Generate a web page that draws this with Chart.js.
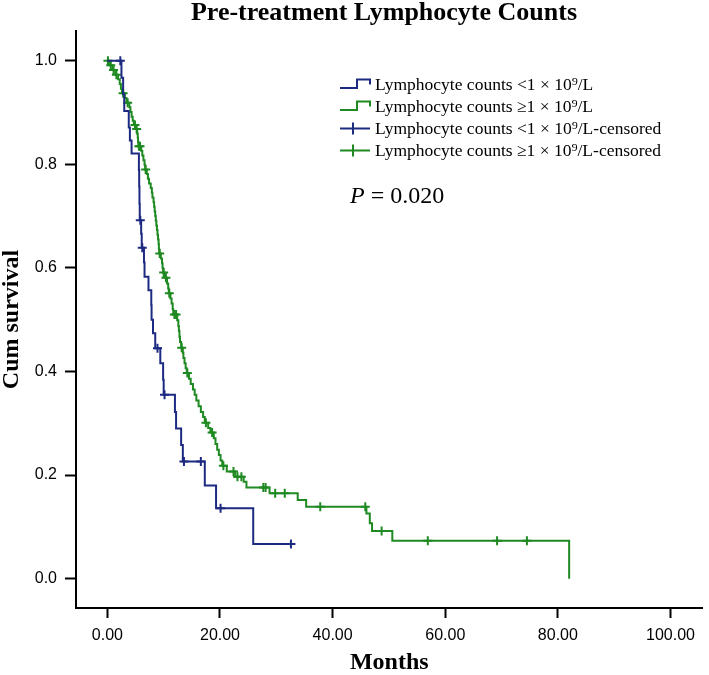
<!DOCTYPE html>
<html><head><meta charset="utf-8">
<script src="https://cdn.jsdelivr.net/npm/chart.js@4/dist/chart.umd.min.js"></script>
<style>html,body{margin:0;padding:0;background:#fff}canvas{display:block}</style>
</head><body>
<canvas id="c" width="709" height="675"></canvas>
<script>
const chartTitle = 'Pre-treatment Lymphocyte Counts';
const xTitle = 'Months';
const yTitle = 'Cum survival';
const xTicks = [0, 20, 40, 60, 80, 100];
const yTicks = [0, 0.2, 0.4, 0.6, 0.8, 1.0];
const seriesNames = [
  'Lymphocyte counts <1 \u00d7 10\u2079/L',
  'Lymphocyte counts \u22651 \u00d7 10\u2079/L',
  'Lymphocyte counts <1 \u00d7 10\u2079/L-censored',
  'Lymphocyte counts \u22651 \u00d7 10\u2079/L-censored'
];
const pLabel = ['P', ' = 0.020'];

// Group <1 x 10^9/L : event times (months) and survival after each step
const lowTimes = [0, 2.5, 2.8, 3.0, 3.8, 4.0, 4.3, 5.6, 5.65, 5.7, 5.75, 6.0, 6.1, 6.5, 6.6, 7.3, 7.8, 7.85, 8.1, 8.5, 9.4, 9.9, 10.0, 12.0, 12.2, 13.1, 13.4, 17.3, 19.3, 25.9, 32.6];
const lowSurv  = [1.0, 0.967, 0.935, 0.903, 0.871, 0.846, 0.821, 0.789, 0.757, 0.724, 0.692, 0.666, 0.639, 0.611, 0.583, 0.557, 0.528, 0.500, 0.474, 0.445, 0.416, 0.384, 0.355, 0.322, 0.290, 0.258, 0.226, 0.180, 0.136, 0.067, 0.067];
const lowCensTimes = [2.3, 5.85, 6.2, 8.9, 10.15, 13.6, 16.6, 20.1, 32.6];
const lowCensSurv  = [1.0, 0.692, 0.639, 0.445, 0.355, 0.226, 0.226, 0.136, 0.067];

// Group >=1 x 10^9/L
const highTimes = [0, 0.3, 0.9, 1.4, 1.9, 2.2, 2.4, 2.6, 3.1, 3.4, 3.9, 4.1, 4.3, 4.5, 4.7, 5.1, 5.3, 5.4, 5.45, 5.5, 6.0, 6.2, 6.4, 6.6, 6.7, 7.0, 7.2, 7.4, 7.7, 7.9, 8.0, 8.2, 8.3, 8.4, 8.5, 8.6, 8.7, 8.8, 8.9, 9.0, 9.1, 9.15, 9.2, 9.5, 9.7, 9.8, 9.9, 10.2, 10.6, 10.8, 10.9, 11.2, 11.4, 11.6, 11.7, 12.4, 12.6, 12.7, 12.8, 12.9, 13.1, 13.4, 13.5, 13.7, 13.9, 14.1, 14.5, 14.8, 15.2, 15.5, 15.8, 16.2, 16.6, 17.0, 17.3, 17.9, 18.3, 18.9, 19.2, 19.5, 19.8, 20.1, 20.4, 21.2, 22.7, 24.2, 24.7, 28.8, 33.8, 35.3, 46.0, 46.6, 47.0, 50.6, 82.0];
const highSurv  = [1.0, 0.991, 0.982, 0.973, 0.964, 0.955, 0.946, 0.937, 0.928, 0.919, 0.910, 0.901, 0.892, 0.884, 0.876, 0.868, 0.859, 0.851, 0.843, 0.835, 0.826, 0.817, 0.808, 0.799, 0.790, 0.781, 0.772, 0.763, 0.754, 0.745, 0.736, 0.727, 0.718, 0.709, 0.700, 0.691, 0.682, 0.673, 0.664, 0.655, 0.646, 0.637, 0.628, 0.618, 0.609, 0.600, 0.591, 0.581, 0.570, 0.560, 0.551, 0.541, 0.531, 0.520, 0.510, 0.499, 0.488, 0.478, 0.467, 0.457, 0.446, 0.436, 0.426, 0.416, 0.406, 0.397, 0.386, 0.376, 0.365, 0.355, 0.344, 0.333, 0.322, 0.312, 0.301, 0.291, 0.282, 0.271, 0.260, 0.249, 0.239, 0.228, 0.218, 0.207, 0.197, 0.187, 0.176, 0.165, 0.152, 0.139, 0.126, 0.107, 0.092, 0.073, 0];
const highCensTimes = [0.1, 0.6, 1.1, 1.6, 2.8, 3.6, 4.9, 5.2, 5.6, 5.8, 6.8, 9.3, 10.0, 10.4, 11.0, 11.9, 12.2, 13.2, 14.2, 17.5, 18.6, 20.6, 22.4, 23.1, 23.8, 27.7, 28.1, 29.8, 31.5, 37.8, 45.8, 48.7, 56.9, 69.2, 74.5];
const highCensSurv  = [1.0, 0.991, 0.982, 0.973, 0.937, 0.919, 0.876, 0.868, 0.835, 0.835, 0.790, 0.628, 0.591, 0.581, 0.551, 0.510, 0.510, 0.446, 0.397, 0.301, 0.282, 0.218, 0.207, 0.197, 0.197, 0.176, 0.176, 0.165, 0.165, 0.139, 0.139, 0.092, 0.073, 0.073, 0.073];

const BLUE = '#1d2a82';
const GREEN = '#1f8a22';
const pts = (xs, ys) => xs.map((x, i) => ({x: x, y: ys[i]}));

const overlay = {
  id: 'overlay',
  afterDraw(chart) {
    const ctx = chart.ctx;
    ctx.save();
    ctx.fillStyle = '#000';
    ctx.textBaseline = 'alphabetic';
    ctx.font = 'bold 26px "Liberation Serif", "Times New Roman", serif';
    ctx.textAlign = 'center';
    ctx.fillText(chartTitle, 384, 20);

    // legend
    ctx.textAlign = 'left';
    ctx.font = '17.5px "Liberation Serif", "Times New Roman", serif';
    const baselines = [90, 112, 134, 156];
    const colors = [BLUE, GREEN, BLUE, GREEN];
    baselines.forEach((b, i) => {
      ctx.strokeStyle = colors[i];
      ctx.lineWidth = 2;
      ctx.beginPath();
      if (i < 2) {
        const yb = b - 2, yt = b - 10.5;
        ctx.moveTo(340, yb); ctx.lineTo(357, yb); ctx.lineTo(357, yt);
        ctx.lineTo(370, yt); ctx.lineTo(370, yt + 5);
      } else {
        const yc = b - 5.5;
        ctx.moveTo(340, yc); ctx.lineTo(370, yc);
        ctx.moveTo(353, yc - 6); ctx.lineTo(353, yc + 6);
      }
      ctx.stroke();
      ctx.fillStyle = '#000';
      ctx.fillText(seriesNames[i], 375, b);
    });

    // P value
    ctx.font = 'italic 24px "Liberation Serif", "Times New Roman", serif';
    ctx.fillText(pLabel[0], 350, 203);
    const w = ctx.measureText(pLabel[0]).width;
    ctx.font = '24px "Liberation Serif", "Times New Roman", serif';
    ctx.fillText(pLabel[1], 350 + w, 203);
    ctx.restore();
  }
};

new Chart(document.getElementById('c'), {
  type: 'line',
  data: {
    datasets: [
      { label: seriesNames[0], data: pts(lowTimes, lowSurv), stepped: 'before', borderColor: BLUE, borderWidth: 2, pointRadius: 0, fill: false },
      { label: seriesNames[1], data: pts(highTimes, highSurv), stepped: 'before', borderColor: GREEN, borderWidth: 2, pointRadius: 0, fill: false },
      { label: seriesNames[2], data: pts(lowCensTimes, lowCensSurv), showLine: false, pointStyle: 'cross', pointRadius: 4.5, pointBorderWidth: 2, borderColor: BLUE, backgroundColor: BLUE },
      { label: seriesNames[3], data: pts(highCensTimes, highCensSurv), showLine: false, pointStyle: 'cross', pointRadius: 4.5, pointBorderWidth: 2, borderColor: GREEN, backgroundColor: GREEN }
    ]
  },
  options: {
    responsive: false,
    animation: false,
    devicePixelRatio: 1,
    layout: { padding: { top: 31, right: 0, left: 0, bottom: 0 } },
    plugins: { legend: { display: false }, tooltip: { enabled: false }, title: { display: false } },
    elements: { line: { tension: 0 } },
    scales: {
      x: {
        type: 'linear',
        min: -5.57, max: 105.68,
        afterBuildTicks: s => { s.ticks = xTicks.map(v => ({value: v})); },
        afterFit: s => { s.height = 67; s.paddingLeft = 0; s.paddingRight = 0; },
        grid: { display: true, drawOnChartArea: false, drawTicks: true, tickLength: 10, tickWidth: 2, tickColor: '#000' },
        border: { display: true, color: '#000', width: 2 },
        ticks: { color: '#000', padding: 8, maxRotation: 0, font: { family: '"Liberation Sans", Arial, sans-serif', size: 16 }, callback: v => Number(v).toFixed(2) },
        title: { display: true, text: xTitle, color: '#000', padding: 0, font: { family: '"Liberation Serif", "Times New Roman", serif', size: 24, weight: 'bold', lineHeight: 1 } }
      },
      y: {
        type: 'linear',
        min: -0.0566, max: 1.0573,
        afterBuildTicks: s => { s.ticks = yTicks.map(v => ({value: v})); },
        afterFit: s => { s.width = 76; s.paddingTop = 0; s.paddingBottom = 0; },
        grid: { display: true, drawOnChartArea: false, drawTicks: true, tickLength: 11, tickWidth: 2, tickColor: '#000' },
        border: { display: true, color: '#000', width: 2 },
        ticks: { color: '#000', padding: 8, font: { family: '"Liberation Sans", Arial, sans-serif', size: 16 }, callback: v => Number(v).toFixed(1) },
        title: { display: true, text: yTitle, color: '#000', padding: 0, font: { family: '"Liberation Serif", "Times New Roman", serif', size: 24, weight: 'bold', lineHeight: 1 } }
      }
    }
  },
  plugins: [overlay]
});
</script>
</body></html>
